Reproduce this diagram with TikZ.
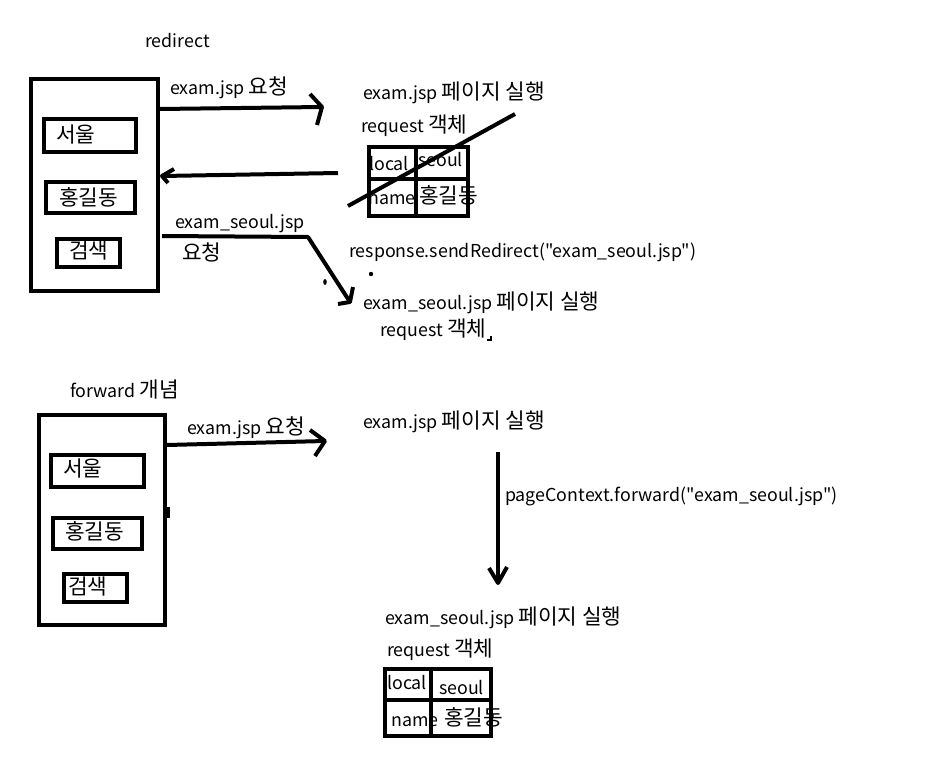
\documentclass[tikz,border=0pt]{standalone}
\usepackage{fontspec}
\setmainfont{Noto Sans CJK KR}[Ligatures=TeXOff]
\newfontfamily\kr{Noto Sans CJK KR}[Scale=1.2]
\newcommand{\ko}[1]{{\kr #1}}
\begin{document}
\begin{tikzpicture}[x=1pt,y=-1pt,
  lbl/.style={anchor=west,inner sep=0pt,text height=12.5pt,text depth=3.5pt,font=\fontsize{17.8}{20}\selectfont},
  frame/.style={draw,line width=4pt,inner sep=0pt},
  conn/.style={line width=4pt},
  headstroke/.style={line width=4pt,line join=round}]
\useasboundingbox[fill=white] (0,0) rectangle (928,757);

% ---------- redirect part ----------
\node[lbl] (tRedirect) at (145,43) {redirect};
\node[frame,minimum width=127pt,minimum height=212pt] (b1) at (94.5,185) {};
\node[frame,minimum width=92pt,minimum height=33pt] (b1a) at (90,135.5) {};
\node[frame,minimum width=89pt,minimum height=31pt] (b1b) at (90.5,197.5) {};
\node[frame,minimum width=63pt,minimum height=28pt] (b1c) at (88.5,253) {};
\node[lbl] (t1a) at (56,138) {\ko{서울}};
\node[lbl] (t1b) at (59,201) {\ko{홍길동}};
\node[lbl] (t1c) at (69,254) {\ko{검색}};

\node[lbl] (tReq1) at (170,90) {exam.jsp \ko{요청}};
\node[lbl] (tPage1) at (363,95) {exam.jsp \ko{페이지 실행}};
\node[lbl] (tObj1) at (361,128) {request \ko{객체}};
\node[lbl] (c1a) at (369,166) {local};
\node[lbl] (c1b) at (418,162) {seoul};
\node[lbl] (c1c) at (368,200) {name};
\node[lbl] (c1d) at (419,199) {\ko{홍길동}};
\node[lbl] (tReq2) at (175,224) {exam\_seoul.jsp};
\node[lbl] (tReq2b) at (182,256) {\ko{요청}};
\node[lbl] (tSend) at (349,253) {response.sendRedirect("exam\_seoul.jsp")};
\node[lbl] (tPage2) at (363,305) {exam\_seoul.jsp \ko{페이지 실행}};
\node[lbl] (tObj2) at (380,332) {request \ko{객체}};

% table 1
\node[frame,minimum width=47pt,minimum height=32pt] (g1a) at (392.5,163) {};
\node[frame,minimum width=52pt,minimum height=32pt] (g1b) at (442,163) {};
\node[frame,minimum width=47pt,minimum height=37pt] (g1c) at (392.5,197.5) {};
\node[frame,minimum width=52pt,minimum height=37pt] (g1d) at (442,197.5) {};
\coordinate (s1) at (348,206);
\coordinate (s2) at (515,114);
\draw[conn] (s1) -- (s2);

% arrows (redirect)
\coordinate (a1s) at (160,109);
\coordinate (a1e) at (322,107);
\draw[conn] (a1s) -- (a1e);
\draw[headstroke] (310,94) -- (a1e) -- (317,125);

\coordinate (a2s) at (338,173);
\coordinate (a2e) at (162,176);
\draw[conn] (a2s) -- (a2e);
\draw[headstroke] (174,169) -- (a2e) -- (168,183);

\coordinate (a3s) at (162,236);
\coordinate (a3m) at (308,237);
\coordinate (a3e) at (350,302);
\draw[conn,line join=round] (a3s) -- (a3m) -- (a3e);
\draw[headstroke] (353,287) -- (a3e) -- (338,304);

\fill (325,282) ellipse (1.8pt and 3pt);
\fill (371,274) circle (2.2pt);
\draw[line width=1.5pt] (487,340) -- (491,340) -- (491,336);

% ---------- forward part ----------
\node[lbl] (tFwd) at (70,393) {forward \ko{개념}};
\node[frame,minimum width=126pt,minimum height=210pt] (b2) at (102,520) {};
\node[frame,minimum width=93pt,minimum height=32pt] (b2a) at (97.5,471) {};
\node[frame,minimum width=89pt,minimum height=31pt] (b2b) at (97.5,533.5) {};
\node[frame,minimum width=63pt,minimum height=28pt] (b2c) at (95.5,588) {};
\node[lbl] (t2a) at (63,472) {\ko{서울}};
\node[lbl] (t2b) at (65,535) {\ko{홍길동}};
\node[lbl] (t2c) at (68,590) {\ko{검색}};
\draw[line width=3pt] (168,507) -- (168,518);

\node[lbl] (tReq3) at (187,430) {exam.jsp \ko{요청}};
\node[lbl] (tPage3) at (363,424) {exam.jsp \ko{페이지 실행}};
\node[lbl] (tFwdCall) at (505,497) {pageContext.forward("exam\_seoul.jsp")};
\node[lbl] (tPage4) at (385,620) {exam\_seoul.jsp \ko{페이지 실행}};
\node[lbl] (tObj3) at (387,652) {request \ko{객체}};
\node[lbl] (c2a) at (387,685) {local};
\node[lbl] (c2b) at (439,690) {seoul};
\node[lbl] (c2c) at (391,722) {name};
\node[lbl] (c2d) at (444,721) {\ko{홍길동}};

% table 2
\node[frame,minimum width=46pt,minimum height=31pt] (g2a) at (408,684.5) {};
\node[frame,minimum width=60pt,minimum height=31pt] (g2b) at (461,684.5) {};
\node[frame,minimum width=46pt,minimum height=36pt] (g2c) at (408,718) {};
\node[frame,minimum width=60pt,minimum height=36pt] (g2d) at (461,718) {};

% arrows (forward)
\coordinate (a4s) at (167,445);
\coordinate (a4e) at (325,441);
\draw[conn] (a4s) -- (a4e);
\draw[headstroke] (310,430) -- (a4e) -- (315,456);

\coordinate (a5s) at (498,452);
\coordinate (a5e) at (498,583);
\draw[conn] (a5s) -- (a5e);
\draw[headstroke] (489,568) -- (a5e) -- (507,567);
\end{tikzpicture}
\end{document}
